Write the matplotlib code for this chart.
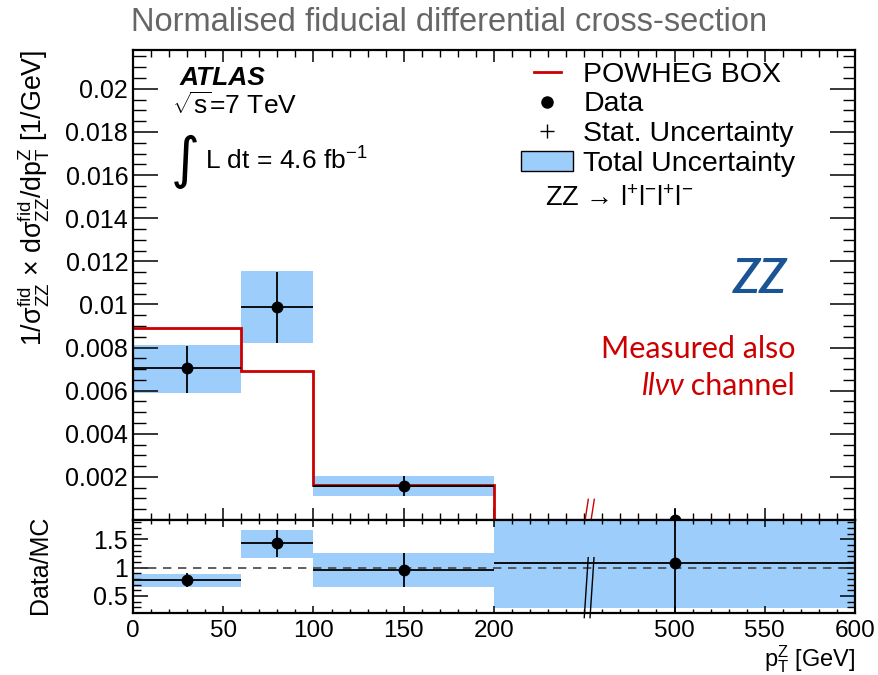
import numpy as np
import matplotlib
matplotlib.use('Agg')
import matplotlib.pyplot as plt
from matplotlib import font_manager
from matplotlib.lines import Line2D
from matplotlib.patches import Patch
from matplotlib.legend_handler import HandlerLine2D

plt.rcParams['font.family'] = ['Liberation Sans', 'DejaVu Sans']
plt.rcParams['mathtext.fontset'] = 'custom'
plt.rcParams['mathtext.rm'] = 'Liberation Sans'
plt.rcParams['mathtext.it'] = 'Liberation Sans:italic'
plt.rcParams['mathtext.bf'] = 'Liberation Sans:bold'

# bins of pT(Z) [GeV], the last one is drawn compressed (axis break)
bin_edges = [0, 60, 100, 200, 600]
x_points = [30, 80, 150, 500]

# normalised cross-section [1/GeV]
data = [0.00705, 0.00987, 0.00158, 0.00002]
stat_lo = [0.00588, 0.0082, 0.0011, 0.0]
stat_hi = [0.00808, 0.0115, 0.00206, 0.0005]
tot_lo = [0.00591, 0.00822, 0.0011, 0.0]
tot_hi = [0.00811, 0.01153, 0.00206, 0.00004]
powheg = [0.00891, 0.00691, 0.00163, 0.00002]

# Data / MC
ratio = [0.785, 1.43, 0.96, 1.09]
ratio_stat_lo = [0.66, 1.19, 0.66, -0.2]
ratio_stat_hi = [0.90, 1.66, 1.26, 2.4]
ratio_tot_lo = [0.65, 1.175, 0.66, 0.29]
ratio_tot_hi = [0.89, 1.66, 1.26, 2.0]

x_ticks = [0, 50, 100, 150, 200, 500, 550, 600]
y_ticks = [0.002, 0.004, 0.006, 0.008, 0.01, 0.012, 0.014, 0.016, 0.018, 0.02]
ratio_ticks = [0.5, 1, 1.5]

blue = '#9dcdfb'
red = '#cc0000'

try:
    font_manager.findfont('Liberation Sans Narrow', fallback_to_default=False)
    title_font, title_size = 'Liberation Sans Narrow', 28
except ValueError:
    title_font, title_size = 'Liberation Sans', 23.5


# piecewise axis: 200-500 GeV squeezed by a factor 3
def fwd(x):
    x = np.asarray(x, float)
    return np.where(x <= 200, x, np.where(x <= 500, 200 + (x - 200) / 3.0, x - 200))


def inv(d):
    d = np.asarray(d, float)
    return np.where(d <= 200, d, np.where(d <= 300, 200 + (d - 200) * 3.0, d + 200))


fig = plt.figure(figsize=(8.79, 6.75), dpi=100)
ax = fig.add_axes([0.1513, 0.2296, 0.8214, 0.6963])
rax = fig.add_axes([0.1513, 0.0919, 0.8214, 0.1377], sharex=ax)

edges = np.array(bin_edges, float)
widths = np.diff(edges)
minor_x = list(range(0, 200, 10)) + list(range(200, 500, 30)) + list(range(500, 601, 10))

for a in (ax, rax):
    a.set_xscale('function', functions=(fwd, inv))
    a.set_xlim(0, 600)
    a.set_xticks(x_ticks)
    a.set_xticks(minor_x, minor=True)
    for s in a.spines.values():
        s.set_linewidth(1.6)

# --- main panel
ax.bar(edges[:-1], np.array(tot_hi) - np.array(tot_lo), width=widths, bottom=tot_lo,
       align='edge', color=blue, linewidth=0, zorder=1)
ax.stairs(powheg, edges, baseline=None, color=red, linewidth=2.0, zorder=2)
xerr = [np.array(x_points) - edges[:-1], edges[1:] - np.array(x_points)]
yerr = [np.array(data) - np.array(stat_lo), np.array(stat_hi) - np.array(data)]
ax.errorbar(x_points, data, xerr=xerr, yerr=yerr, fmt='o', color='black', ms=7.5,
            elinewidth=1.3, capsize=0, zorder=3, clip_on=False)

ax.set_ylim(0, 0.0218)
ax.set_yticks(y_ticks)
ax.set_yticklabels(['%g' % v for v in y_ticks])
ax.set_yticks(np.arange(0.0005, 0.0218, 0.0005), minor=True)
ax.tick_params(axis='x', which='both', direction='in', top=True, bottom=True, labelbottom=False)
ax.tick_params(axis='x', which='major', length=8.5, width=1.1)
ax.tick_params(axis='x', which='minor', length=5, width=1.0)
ax.tick_params(axis='y', which='both', direction='in', left=True, right=True, labelsize=18)
ax.tick_params(axis='y', which='major', length=18, width=1.1)
ax.tick_params(axis='y', which='minor', length=9, width=1.0)

# break marks
ax.plot([351.7, 356.7], [0.002, 0.044], color=red, lw=1.0, transform=ax.get_xaxis_transform(), clip_on=False, zorder=5)
ax.plot([361.6, 366.7], [0.002, 0.044], color=red, lw=1.0, transform=ax.get_xaxis_transform(), clip_on=False, zorder=5)

# legend
mc_handle = Line2D([], [], color=red, lw=2.0)
handles = [mc_handle,
           Line2D([], [], color='black', marker='o', ls='none', ms=8),
           Line2D([], [], color='black', marker='+', ls='none', ms=10, mew=1.0),
           Patch(facecolor=blue, edgecolor='black', linewidth=1.0)]
labels = ['POWHEG BOX', 'Data', 'Stat. Uncertainty', 'Total Uncertainty']
ax.legend(handles, labels, loc='upper left', bbox_to_anchor=(0.537, 0.975), frameon=False,
          fontsize=20.5, handlelength=1.85, handletextpad=0.35, labelspacing=0.13,
          borderpad=0, borderaxespad=0,
          handler_map={mc_handle: HandlerLine2D(numpoints=2, marker_pad=0.45)})
ax.text(0.571, 0.683, r'ZZ → l$^{+}$l$^{-}$l$^{+}$l$^{-}$', transform=ax.transAxes,
        fontsize=19.5, va='center', ha='left')

ax.text(0.065, 0.9255, 'ATLAS', transform=ax.transAxes, fontsize=19, weight='bold',
        style='italic', va='baseline')
ax.text(0.054, 0.864, r'$\sqrt{\rm s}$=7 TeV', transform=ax.transAxes, fontsize=19, va='baseline')
ax.text(0.052, 0.762, '∫', transform=ax.transAxes, fontsize=40, va='center',
        family=['DejaVu Sans'])
ax.text(0.0997, 0.745, r'L dt = 4.6 fb$^{-1}$', transform=ax.transAxes, fontsize=19, va='baseline')

ax.text(0.906, 0.483, 'ZZ', transform=ax.transAxes, fontsize=35, style='italic', weight='semibold',
        color='#1a5494', ha='right', va='baseline', family=['Lato', 'DejaVu Sans'])
ax.text(0.917, 0.345, 'Measured also', transform=ax.transAxes, fontsize=22, color=red,
        ha='right', va='baseline', family=['Lato', 'DejaVu Sans'])
t1 = ax.text(0.917, 0.266, ' channel', transform=ax.transAxes, fontsize=22, color=red,
             ha='right', va='baseline', family=['Lato', 'DejaVu Sans'])
ax.annotate('llνν', xy=(0, 0), xycoords=t1, fontsize=22, color=red, style='italic',
            ha='right', va='bottom', family=['Lato', 'DejaVu Sans'])

# --- ratio panel
rax.bar(edges[:-1], np.array(ratio_tot_hi) - np.array(ratio_tot_lo), width=widths,
        bottom=ratio_tot_lo, align='edge', color=blue, linewidth=0, zorder=1)
rax.axhline(1.0, color='#444444', lw=1.2, ls=(0, (5, 4)), zorder=2)
ryerr = [np.array(ratio) - np.array(ratio_stat_lo), np.array(ratio_stat_hi) - np.array(ratio)]
rax.errorbar(x_points, ratio, xerr=xerr, yerr=ryerr, fmt='o', color='black', ms=7.5,
             elinewidth=1.3, capsize=0, zorder=3)
rax.set_ylim(0.2, 1.84)
rax.set_yticks(ratio_ticks)
rax.set_yticklabels(['%g' % v for v in ratio_ticks])
rax.set_yticks(np.arange(0.3, 1.85, 0.1), minor=True)
rax.set_xticklabels([str(v) for v in x_ticks])
rax.tick_params(axis='x', which='both', direction='in', top=True, bottom=True, labelsize=17.5, pad=5)
rax.tick_params(axis='x', which='major', length=5, width=1.1)
rax.tick_params(axis='x', which='minor', length=3, width=1.0)
rax.tick_params(axis='y', which='both', direction='in', left=True, right=True, labelsize=18)
rax.tick_params(axis='y', which='major', length=11, width=1.1)
rax.tick_params(axis='y', which='minor', length=6, width=1.0)

rax.plot([350, 356.6], [-0.05, 0.595], color='black', lw=1.0, transform=rax.get_xaxis_transform(), clip_on=False, zorder=5)
rax.plot([359.6, 366.2], [-0.05, 0.595], color='black', lw=1.0, transform=rax.get_xaxis_transform(), clip_on=False, zorder=5)

# labels and title
fig.text(0.0375, 0.926, r'1/σ$^{\rm fid}_{\rm ZZ}$ × dσ$^{\rm fid}_{\rm ZZ}$/dp$^{\rm Z}_{\rm T}$ [1/GeV]',
         rotation=90, ha='center', va='top', fontsize=19.3)
fig.text(0.046, 0.163, 'Data/MC', rotation=90, ha='center', va='center', fontsize=18)
fig.text(0.973, 0.0, r'p$^{\rm Z}_{\rm T}$ [GeV]', ha='right', va='bottom', fontsize=17)
fig.text(0.511, 0.966, 'Normalised fiducial differential cross-section', ha='center',
         va='center', fontsize=title_size, color='#666666', family=[title_font, 'DejaVu Sans'])

fig.savefig('out.png', dpi=100)
